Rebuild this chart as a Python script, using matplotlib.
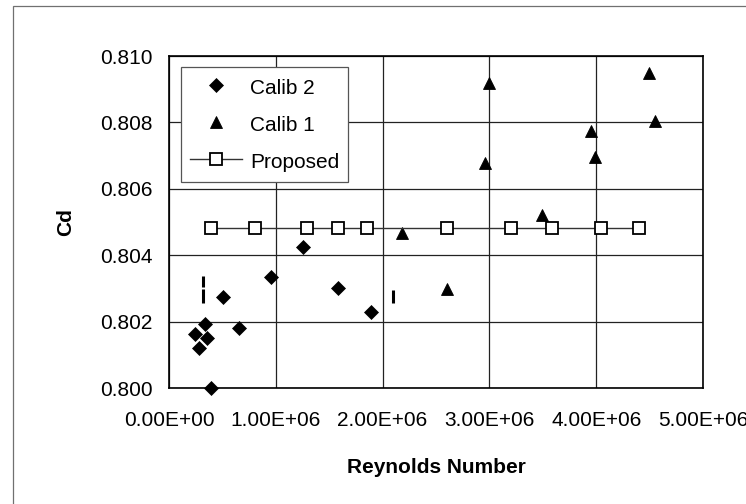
import matplotlib
matplotlib.use("Agg")
import matplotlib.pyplot as plt
from matplotlib.patches import Rectangle
from matplotlib.ticker import FuncFormatter

plt.rcParams['font.family'] = ['Liberation Sans', 'DejaVu Sans']

# Calib 2 (diamonds)
calib2_re = [0.243e6, 0.278e6, 0.340e6, 0.355e6, 0.396e6, 0.502e6, 0.652e6,
             0.951e6, 1.251e6, 1.587e6, 1.893e6]
calib2_cd = [0.80162, 0.80120, 0.80193, 0.80150, 0.80000, 0.80275, 0.80180,
             0.80335, 0.80426, 0.80300, 0.80228]

# Calib 1 (triangles)
calib1_re = [2.186e6, 2.600e6, 2.956e6, 2.993e6, 3.492e6, 3.948e6, 3.985e6,
             4.493e6, 4.546e6]
calib1_cd = [0.80466, 0.80298, 0.80677, 0.80918, 0.80521, 0.80774, 0.80695,
             0.80948, 0.80804]

# Proposed (open squares with line)
proposed_re = [0.393e6, 0.804e6, 1.294e6, 1.584e6, 1.852e6, 2.600e6, 3.202e6,
               3.589e6, 4.048e6, 4.397e6]
proposed_cd = [0.80481] * len(proposed_re)

# small vertical strokes seen in the picture
stroke_re = [0.321e6, 0.321e6, 2.098e6]
stroke_lo = [0.80305, 0.80257, 0.80257]
stroke_hi = [0.80337, 0.80298, 0.80295]

x_ticks = [0, 1e6, 2e6, 3e6, 4e6, 5e6]
y_ticks = [0.800, 0.802, 0.804, 0.806, 0.808, 0.810]

W, H = 746, 504
fig = plt.figure(figsize=(W / 100, H / 100), dpi=100)
fig.patch.set_facecolor('white')

# outer chart-area frame (extends past right/bottom edges)
fig.patches.append(Rectangle((13 / W, -0.1), 1.2, 1 - 6 / H + 0.1,
                             transform=fig.transFigure, fill=False,
                             edgecolor='#707070', linewidth=0.9, zorder=0))

ax = fig.add_axes([169 / W, 1 - 388 / H, (703 - 169) / W, (388 - 56) / H])
ax.set_xlim(0, 5e6)
ax.set_ylim(0.800, 0.810)
ax.set_xticks(x_ticks)
ax.set_yticks(y_ticks)
ax.xaxis.set_major_formatter(FuncFormatter(lambda v, p: f"{v:.2E}"))
ax.yaxis.set_major_formatter(FuncFormatter(lambda v, p: f"{v:.3f}"))
ax.tick_params(axis='both', length=0, labelsize=15, colors='black')
ax.tick_params(axis='x', pad=16.5)
ax.tick_params(axis='y', pad=12)
ax.grid(True, color='#222222', linewidth=0.9)
ax.set_axisbelow(True)
for s in ax.spines.values():
    s.set_color('black')
    s.set_linewidth(1.2)

ax.vlines(stroke_re, stroke_lo, stroke_hi, colors='black', linewidth=2.2, zorder=3)

ax.plot(calib2_re, calib2_cd, linestyle='none', marker='D', markersize=6.7,
        color='black', markeredgewidth=0.5, label='Calib 2', zorder=4, clip_on=False)
ax.plot(calib1_re, calib1_cd, linestyle='none', marker='^', markersize=8.8,
        color='black', markeredgewidth=0.6, label='Calib 1', zorder=4, clip_on=False)
ax.plot(proposed_re, proposed_cd, linestyle='-', color='#333333', linewidth=1.0,
        marker='s', markersize=8.5, markerfacecolor='white',
        markeredgecolor='black', markeredgewidth=1.3, label='Proposed', zorder=5)

ax.set_xlabel('Reynolds Number', fontsize=15, fontweight='bold', labelpad=20)
ax.set_ylabel('Cd', fontsize=15, fontweight='bold', labelpad=18)

leg = ax.legend(loc='upper left', bbox_to_anchor=(0.0225, 0.9678),
                borderaxespad=0, fontsize=15, frameon=True, fancybox=False,
                edgecolor='#555555', framealpha=1, handlelength=2.5,
                handleheight=1.3, handletextpad=0.35, labelspacing=0.68,
                borderpad=0.45)
leg.get_frame().set_linewidth(0.9)
leg.set_zorder(10)

fig.savefig('out.png', dpi=100, facecolor='white')
